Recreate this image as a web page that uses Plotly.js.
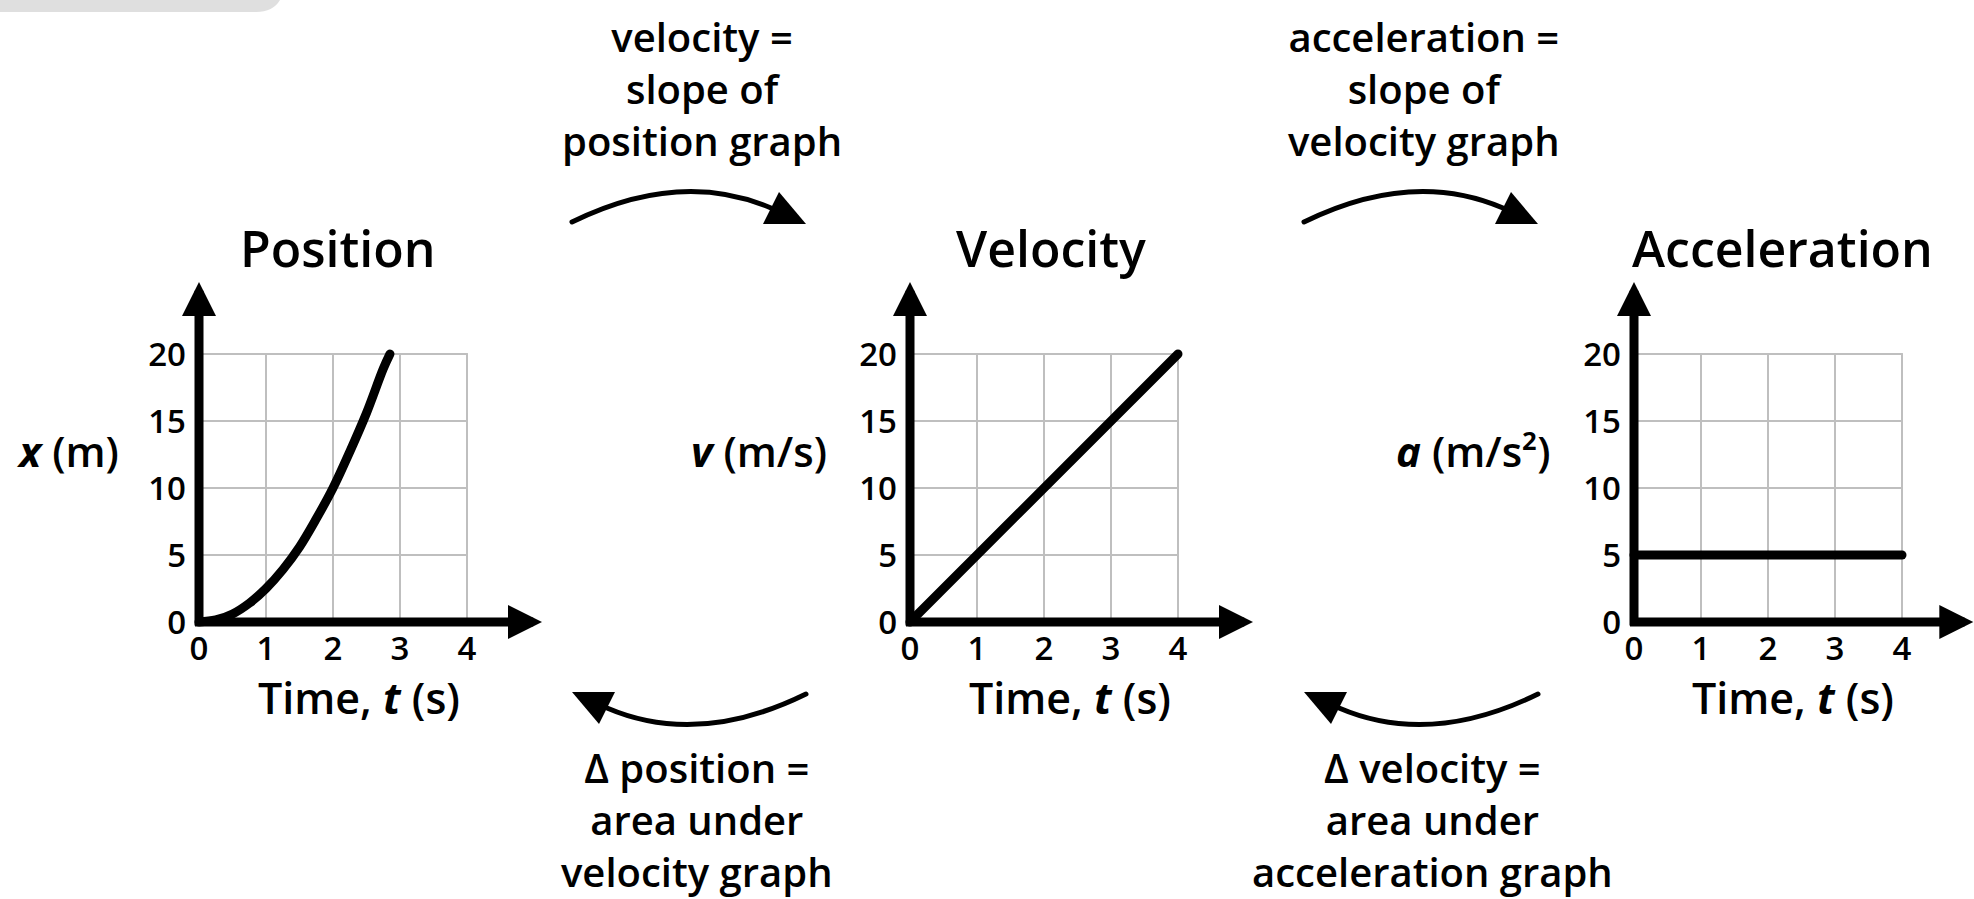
<!DOCTYPE html>
<html>
<head>
<meta charset="utf-8">
<script src="https://cdn.plot.ly/plotly-3.0.1.min.js"></script>
<style>
  html, body { margin: 0; padding: 0; background: #fff; }
  #chart { width: 1974px; height: 899px; }
  .scatterlayer .js-line, .shapelayer path { stroke-linecap: round; stroke-linejoin: round; }
</style>
</head>
<body>
<div id="chart"></div>
<script>
// ---- data ----
var timeTicks = [0, 1, 2, 3, 4];
var valueTicks = [0, 5, 10, 15, 20];

var positionT = [0, 0.25, 0.5, 0.75, 1, 1.25, 1.5, 1.75, 2, 2.25, 2.5, 2.75, 2.85];
var positionX = [0, 0.15, 0.6, 1.4, 2.5, 3.9, 5.6, 7.7, 10, 12.7, 15.6, 18.9, 20];
var velocityT = [0, 1, 2, 3, 4];
var velocityV = [0, 5, 10, 15, 20];
var accelT = [0, 1, 2, 3, 4];
var accelA = [5, 5, 5, 5, 5];

var panelTitles = ["Position", "Velocity", "Acceleration"];
var yLabels = ["<b><i>x</i></b> (m)", "<b><i>v</i></b> (m/s)", "<b><i>a</i></b> (m/s²)"];
var xLabel = "Time, <b><i>t</i></b> (s)";
var slopeNotes = [["velocity =", "slope of", "position graph"], ["acceleration =", "slope of", "velocity graph"]];
var areaNotes = [["Δ position =", "area under", "velocity graph"], ["Δ velocity =", "area under", "acceleration graph"]];

// ---- page geometry (px) ----
var W = 1974, H = 899;
var originX = [199, 910, 1634];   // where t = 0 sits in each panel
var originY = 622;                // where value = 0 sits
var ux = 67, uy = 13.4;           // px per second, px per unit
var pad = 12;
var axisW = 9;
var headLen = 34;
var FONT = "Open Sans, Lato, sans-serif";

var traces = [
  { x: positionT, y: positionX, xaxis: "x", yaxis: "y", mode: "lines",
    line: { color: "#000", width: 9, shape: "spline", smoothing: 1 }, hoverinfo: "skip" },
  { x: velocityT, y: velocityV, xaxis: "x2", yaxis: "y2", mode: "lines",
    line: { color: "#000", width: 9 }, hoverinfo: "skip" },
  { x: accelT, y: accelA, xaxis: "x3", yaxis: "y3", mode: "lines",
    line: { color: "#000", width: 9 }, hoverinfo: "skip" },
  // full-page overlay used for the connecting arrows and the text
  { x: [], y: [], xaxis: "x4", yaxis: "y4", mode: "lines", hoverinfo: "skip" }
];

var layout = {
  width: W, height: H,
  margin: { l: 0, r: 0, t: 0, b: 0 },
  paper_bgcolor: "#fff", plot_bgcolor: "rgba(0,0,0,0)",
  showlegend: false,
  font: { family: FONT, color: "#000" },
  shapes: [],
  annotations: []
};

var headScale = headLen / 5;          // arrowhead 2 is 5 units long

for (var i = 0; i < 3; i++) {
  var sx = i === 0 ? "" : String(i + 1);
  var ox = originX[i];
  var xMax = Math.min(5.25, (W - ox) / ux - 0.002);
  var xr = [-pad / ux, xMax];
  var yr = [-pad / uy, 25.6];

  layout["xaxis" + sx] = {
    domain: [(ox + xr[0] * ux) / W, Math.min(1, (ox + xr[1] * ux) / W)],
    range: xr, anchor: "y" + sx,
    tickmode: "array", tickvals: timeTicks, ticks: "",
    showgrid: false, zeroline: false, showline: false,
    tickfont: { family: FONT, size: 33, color: "#000", weight: 600 },
    ticklabelstandoff: -8, fixedrange: true
  };
  layout["yaxis" + sx] = {
    domain: [1 - (originY - yr[0] * uy) / H, 1 - (originY - yr[1] * uy) / H],
    range: yr, anchor: "x" + sx,
    tickmode: "array", tickvals: valueTicks, ticks: "",
    showgrid: false, zeroline: false, showline: false,
    tickfont: { family: FONT, size: 33, color: "#000", weight: 600 },
    ticklabelstandoff: 0, fixedrange: true
  };

  // grid, limited to the 0..4 by 0..20 box
  timeTicks.forEach(function (t) {
    layout.shapes.push({ type: "line", xref: "x" + sx, yref: "y" + sx, layer: "below",
      x0: t, x1: t, y0: valueTicks[0], y1: valueTicks[valueTicks.length - 1],
      line: { color: "#bfbfbf", width: 2 } });
  });
  valueTicks.forEach(function (v) {
    layout.shapes.push({ type: "line", xref: "x" + sx, yref: "y" + sx, layer: "below",
      x0: timeTicks[0], x1: timeTicks[timeTicks.length - 1], y0: v, y1: v,
      line: { color: "#bfbfbf", width: 2 } });
  });

  // axis arrows (head tip sits on the anchor point)
  var half = axisW / 2;
  var arrowBase = { xref: "x" + sx, yref: "y" + sx, axref: "x" + sx, ayref: "y" + sx,
    text: " ", font: { size: 1 }, borderpad: 0, showarrow: true,
    arrowhead: 2, arrowwidth: axisW, arrowsize: headScale / axisW, arrowcolor: "#000", standoff: 0 };
  layout.annotations.push(Object.assign({}, arrowBase, {
    x: 0, y: (originY - 282) / uy, ax: 0, ay: -half / uy }));
  layout.annotations.push(Object.assign({}, arrowBase, {
    x: Math.min(343 / ux, xMax - 0.008), y: 0, ax: -half / ux, ay: 0 }));
}

layout.xaxis4 = { domain: [0, 1], range: [0, W], anchor: "y4", visible: false, fixedrange: true };
layout.yaxis4 = { domain: [0, 1], range: [H, 0], anchor: "x4", visible: false, fixedrange: true };

// grey tab in the corner
layout.shapes.push({ type: "path", xref: "x4", yref: "y4", layer: "above",
  path: "M0,0 H280 Q273,12 256,12 H0 Z", fillcolor: "#dfdfdf", line: { width: 0 } });

// curved connecting arrows
function arrowPaths(flip, dx) {
  var pts = { s: [572, 222], c: [680, 169], e: [771, 208], h: [[779, 192], [763, 224], [806, 224]] };
  function tr(p) {
    var x = flip ? 1378 - p[0] : p[0];
    var y = flip ? 916 - p[1] : p[1];
    return (x + dx) + "," + y;
  }
  layout.shapes.push({ type: "path", xref: "x4", yref: "y4", layer: "above",
    path: "M" + tr(pts.s) + " Q" + tr(pts.c) + " " + tr(pts.e), line: { color: "#000", width: 5 } });
  layout.shapes.push({ type: "path", xref: "x4", yref: "y4", layer: "above",
    path: "M" + tr(pts.h[0]) + " L" + tr(pts.h[1]) + " L" + tr(pts.h[2]) + " Z",
    fillcolor: "#000", line: { width: 0 } });
}
arrowPaths(false, 0);
arrowPaths(false, 732);
arrowPaths(true, 0);
arrowPaths(true, 732);

function label(x, baseline, text, size, weight, anchor) {
  layout.annotations.push({ xref: "x4", yref: "y4", x: x, y: baseline - 0.36 * size,
    text: text, showarrow: false, xanchor: anchor || "center", yanchor: "middle", borderpad: 0,
    font: { family: FONT, size: size, color: "#000", weight: weight } });
}

var titleX = [338, 1051, 1782];
var xLabelX = [359, 1070, 1793];
var yLabelRight = [120, 828, 1552];
for (var k = 0; k < 3; k++) {
  label(titleX[k], 266, panelTitles[k], 50, 600);
  label(xLabelX[k], 713, xLabel, 43, 600);
  label(yLabelRight[k], 466, yLabels[k], 42, 600, "right");
}

// three-line notes, placed by the baseline of their middle line
var slopeX = [702, 1424], areaX = [697, 1432];
for (var n = 0; n < 2; n++) {
  label(slopeX[n], 103, slopeNotes[n].join("<br>"), 40, 600);
  label(areaX[n], 834, areaNotes[n].join("<br>"), 40, 600);
}

Plotly.newPlot("chart", traces, layout, { displayModeBar: false, responsive: false });
</script>
</body>
</html>
